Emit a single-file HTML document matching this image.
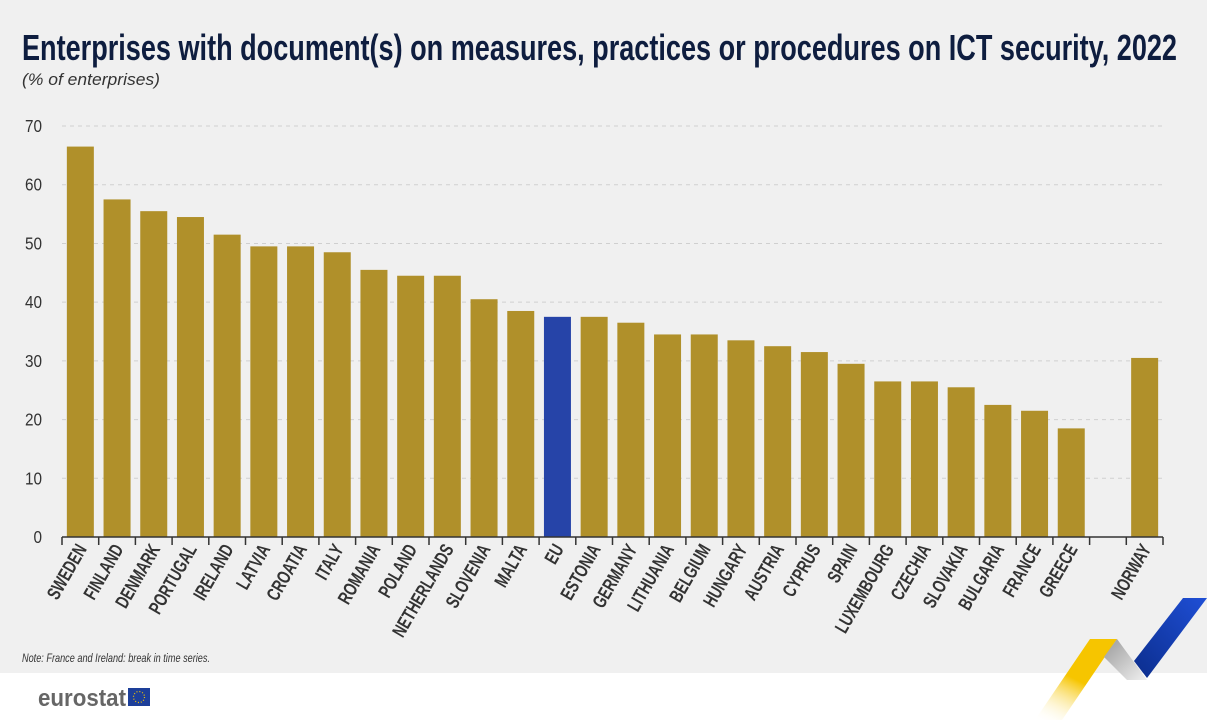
<!DOCTYPE html>
<html><head><meta charset="utf-8"><style>
body{margin:0;width:1207px;height:720px;overflow:hidden;background:#fff;font-family:"Liberation Sans",sans-serif}
</style></head><body>
<svg width="1207" height="720" xmlns="http://www.w3.org/2000/svg" font-family="Liberation Sans, sans-serif">
<defs>
<linearGradient id="yg" x1="0" y1="1" x2="0.5" y2="0"><stop offset="0" stop-color="#fff" stop-opacity="0"/><stop offset="0.6" stop-color="#f6c500"/></linearGradient>
<linearGradient id="gg" x1="0" y1="0" x2="1" y2="1"><stop offset="0" stop-color="#9a9a9a"/><stop offset="1" stop-color="#f0f0f0"/></linearGradient>
<linearGradient id="bg2" x1="0" y1="1" x2="1" y2="0"><stop offset="0" stop-color="#0b2d8c"/><stop offset="1" stop-color="#1f4fd6"/></linearGradient>
</defs>
<rect width="1207" height="673" fill="#f0f0f0"/>
<text x="22" y="60" font-size="36" font-weight="bold" fill="#0e1d3f" textLength="1155" lengthAdjust="spacingAndGlyphs">Enterprises with document(s) on measures, practices or procedures on ICT security, 2022</text>
<text x="22" y="85" font-size="17" font-style="italic" fill="#333" textLength="138" lengthAdjust="spacingAndGlyphs">(% of enterprises)</text>
<g id="grid" stroke="#cfcfcf" stroke-dasharray="4,4" stroke-width="1"></g>
<g id="yl" font-size="18" fill="#333" text-anchor="end"></g>
<g id="bars"></g>
<line x1="62" y1="537" x2="1163" y2="537" stroke="#333" stroke-width="1.5"/>
<g id="ticks" stroke="#333" stroke-width="1.5"></g>
<g id="xl" font-size="19" font-weight="bold" fill="#333" text-anchor="end"></g>
<text x="22" y="662" font-size="12" font-style="italic" fill="#333" textLength="188" lengthAdjust="spacingAndGlyphs">Note: France and Ireland: break in time series.</text>
<text x="38" y="706" font-size="24" font-weight="bold" fill="#666" textLength="88" lengthAdjust="spacingAndGlyphs">eurostat</text>
<rect x="128" y="688" width="22" height="18" fill="#1d3f99"/>
<circle cx="139" cy="697" r="5.5" fill="none" stroke="#f6c500" stroke-width="1.2" stroke-dasharray="1,1.9"/>
<polygon points="1035,720 1090,639 1117,639 1062,720" fill="url(#yg)"/>
<polygon points="1117,639 1104,657 1127,680 1147,680" fill="url(#gg)"/>
<polygon points="1134,661 1183,598 1207,598 1147,678" fill="url(#bg2)"/>
</svg>
<script>
const names=["SWEDEN","FINLAND","DENMARK","PORTUGAL","IRELAND","LATVIA","CROATIA","ITALY","ROMANIA","POLAND","NETHERLANDS","SLOVENIA","MALTA","EU","ESTONIA","GERMANY","LITHUANIA","BELGIUM","HUNGARY","AUSTRIA","CYPRUS","SPAIN","LUXEMBOURG","CZECHIA","SLOVAKIA","BULGARIA","FRANCE","GREECE","","NORWAY"];
const vals=[66.5,57.5,55.5,54.5,51.5,49.5,49.5,48.5,45.5,44.5,44.5,40.5,38.5,37.5,37.5,36.5,34.5,34.5,33.5,32.5,31.5,29.5,26.5,26.5,25.5,22.5,21.5,18.5,null,30.5];
const ns="http://www.w3.org/2000/svg";
function el(p,t,a,txt){const e=document.createElementNS(ns,t);for(const k in a)e.setAttribute(k,a[k]);if(txt)e.textContent=txt;document.getElementById(p).appendChild(e);}
const y0=537,k=5.871;
for(let v=0;v<=70;v+=10){const y=y0-v*k;if(v>0)el("grid","line",{x1:62,x2:1163,y1:y,y2:y});el("yl","text",{x:42,y:y+6,transform:`translate(42 0) scale(0.85 1) translate(-42 0)`},String(v));}
const sp=36.7;
for(let i=0;i<=30;i++){const x=62+i*sp;el("ticks","line",{x1:x,x2:x,y1:537,y2:545});}
names.forEach((n,i)=>{const c=62+sp*(i+0.5);if(vals[i]!=null){const h=vals[i]*k;el("bars","rect",{x:c-13.5,y:y0-h,width:27,height:h,fill:n=="EU"?"#2644a8":"#b0902a"});}
if(n)el("xl","text",{x:0,y:0,transform:`translate(${c+7} 549) rotate(-60) scale(0.72 1)`},n);});
</script>
</body></html>
